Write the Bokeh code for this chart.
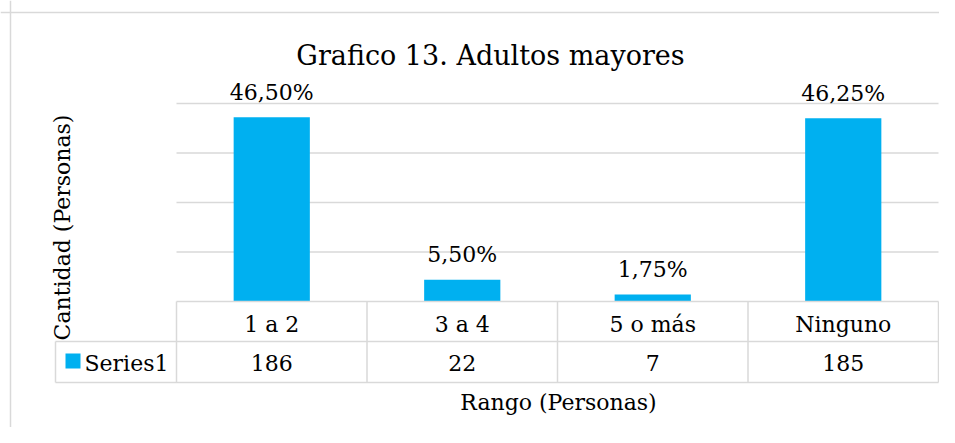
from bokeh.plotting import figure
from bokeh.models import Range1d, Span
from bokeh.core.properties import value
from bokeh.embed import file_html
from bokeh.resources import INLINE
import math

# ---- data ----
TITLE = "Grafico 13. Adultos mayores"
CATEGORIES = ["1 a 2", "3 a 4", "5 o más", "Ninguno"]
COUNTS = [186, 22, 7, 185]
PERCENT_LABELS = ["46,50%", "5,50%", "1,75%", "46,25%"]
SERIES_NAME = "Series1"
GRID_TICKS = [50, 100, 150, 200]
X_TITLE = "Rango (Personas)"
Y_TITLE = "Cantidad (Personas)"

# ---- layout (page pixel -> data mapping) ----
W, H = 939, 427
PAGE_OFF = 0
X0_PAGE, PX_X = 176.0, 190.5    # category boundary 0 and px per category
Y0_PAGE, PX_Y = 301.0, 0.99     # value 0 and px per unit
TXT_SHIFT = 8                   # baseline correction for rendered text


def dx(px):
    return (px - X0_PAGE) / PX_X


def dy(py):
    return (Y0_PAGE - py) / PX_Y


FONT = "DejaVu Serif"
GRID_COLOR = "#D9D9D9"
BAR_COLOR = "#00B0F0"
TXT = "#000000"

p = figure(width=W, height=H, output_backend="svg", toolbar_location=None,
           x_axis_location=None, y_axis_location=None,
           x_range=Range1d(dx(PAGE_OFF), dx(PAGE_OFF + W)),
           y_range=Range1d(dy(PAGE_OFF + H), dy(PAGE_OFF)),
           min_border=0, outline_line_color=None)
p.grid.visible = False
p.background_fill_color = "white"
p.border_fill_color = "white"

# chart box border (top and left visible)
p.add_layout(Span(location=dy(12), dimension="width", line_color=GRID_COLOR, line_width=1.5))
p.add_layout(Span(location=dx(10), dimension="height", line_color=GRID_COLOR, line_width=1.5))

n = len(CATEGORIES)
xs = [i + 0.5 for i in range(n)]

# gridlines
p.segment(x0=[0] * len(GRID_TICKS), x1=[n] * len(GRID_TICKS), y0=GRID_TICKS, y1=GRID_TICKS,
          line_color=GRID_COLOR, line_width=1.5)

# bars
p.vbar(x=xs, top=COUNTS, bottom=0, width=0.4, fill_color=BAR_COLOR, line_color=None)

# data labels
p.text(x=xs, y=COUNTS, text=PERCENT_LABELS, text_font=value(FONT), text_font_size="22px",
       text_align="center", text_baseline="alphabetic", y_offset=-17 - TXT_SHIFT, text_color=TXT)

# data table
row1_bottom = dy(341)
row2_bottom = dy(382)
legend_left = dx(55)
hx0 = [0, legend_left, legend_left]
hx1 = [n, n, n]
hy = [0, row1_bottom, row2_bottom]
p.segment(x0=hx0, x1=hx1, y0=hy, y1=hy, line_color=GRID_COLOR, line_width=1.5)
vx = list(range(n + 1))
p.segment(x0=vx, x1=vx, y0=[0] * len(vx), y1=[row2_bottom] * len(vx),
          line_color=GRID_COLOR, line_width=1.5)
p.segment(x0=[legend_left], x1=[legend_left], y0=[row1_bottom], y1=[row2_bottom],
          line_color=GRID_COLOR, line_width=1.5)

p.text(x=xs, y=[dy(331.5 - TXT_SHIFT)] * n, text=CATEGORIES, text_font=value(FONT),
       text_font_size="22px", text_align="center", text_baseline="alphabetic", text_color=TXT)
p.text(x=xs, y=[dy(370.5 - TXT_SHIFT)] * n, text=[str(c) for c in COUNTS], text_font=value(FONT),
       text_font_size="22px", text_align="center", text_baseline="alphabetic", text_color=TXT)

# legend key
p.quad(left=[dx(65)], right=[dx(80)], top=[dy(353)], bottom=[dy(368)],
       fill_color=BAR_COLOR, line_color=None)
p.text(x=[dx(84)], y=[dy(370.5 - TXT_SHIFT)], text=[SERIES_NAME], text_font=value(FONT),
       text_font_size="22px", text_align="left", text_baseline="alphabetic", text_color=TXT)

# titles
p.text(x=[dx(490)], y=[dy(63 - TXT_SHIFT)], text=[TITLE], text_font=value(FONT),
       text_font_size="27px", text_align="center", text_baseline="alphabetic", text_color=TXT)
p.text(x=[dx(558)], y=[dy(410 - TXT_SHIFT)], text=[X_TITLE], text_font=value(FONT),
       text_font_size="22px", text_align="center", text_baseline="alphabetic", text_color=TXT)
p.text(x=[dx(70 - TXT_SHIFT)], y=[dy(227)], text=[Y_TITLE], text_font=value(FONT),
       text_font_size="22px", text_align="center", text_baseline="alphabetic",
       angle=math.pi / 2, text_color=TXT)

open("out.html", "w").write(file_html(p, INLINE))
